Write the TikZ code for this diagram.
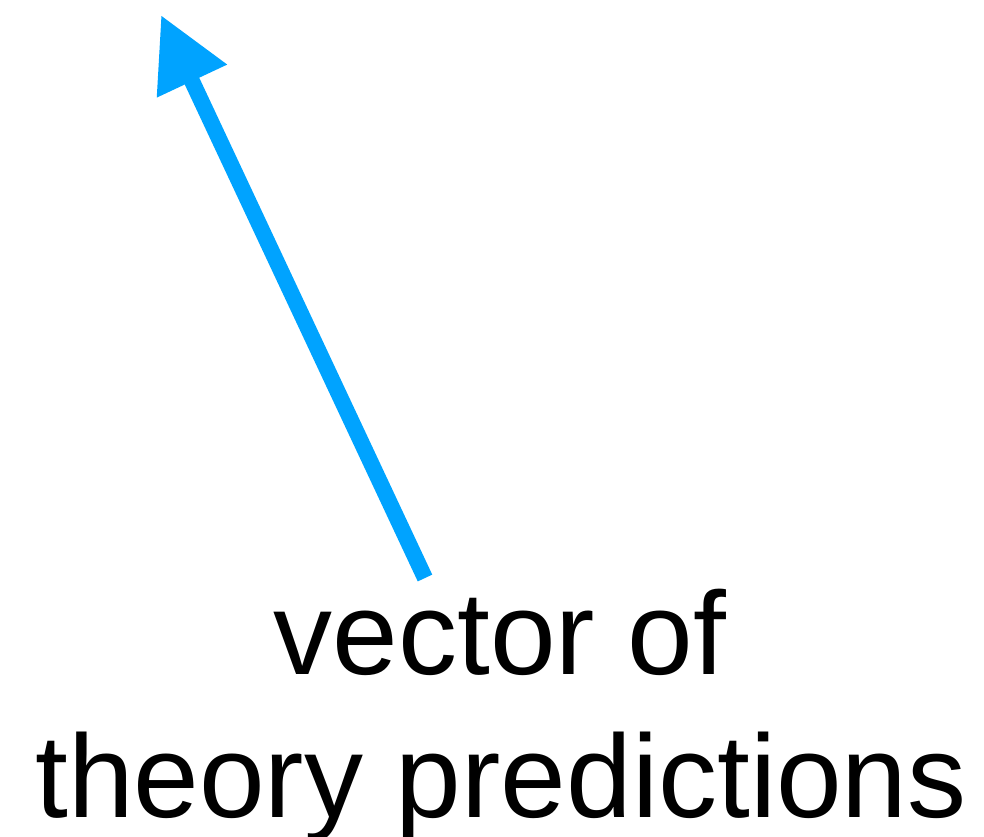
\documentclass[tikz,border=0pt]{standalone}
\usepackage{fontspec}
\setmainfont{Liberation Sans}
\usetikzlibrary{arrows.meta}
\definecolor{freccia}{HTML}{00A3FF}
\begin{document}
\begin{tikzpicture}[x=1pt,y=-1pt,
    testo/.style={inner sep=0pt,anchor=base,font=\fontsize{118}{144}\selectfont}]
        \useasboundingbox(0,0)rectangle(984,836);
        %punti della freccia
        \coordinate(coda)at(425,578);
        \coordinate(punta)at(161,15);
        %freccia
        \draw[freccia,line width=16pt,-{Triangle[length=73pt,width=73pt]}](coda)--(punta);
        %etichetta
        \node[testo](vettore)at(500,674){vector of};
        \node[testo](teoria)at(501,817){theory predictions};
    \end{tikzpicture}
\end{document}
